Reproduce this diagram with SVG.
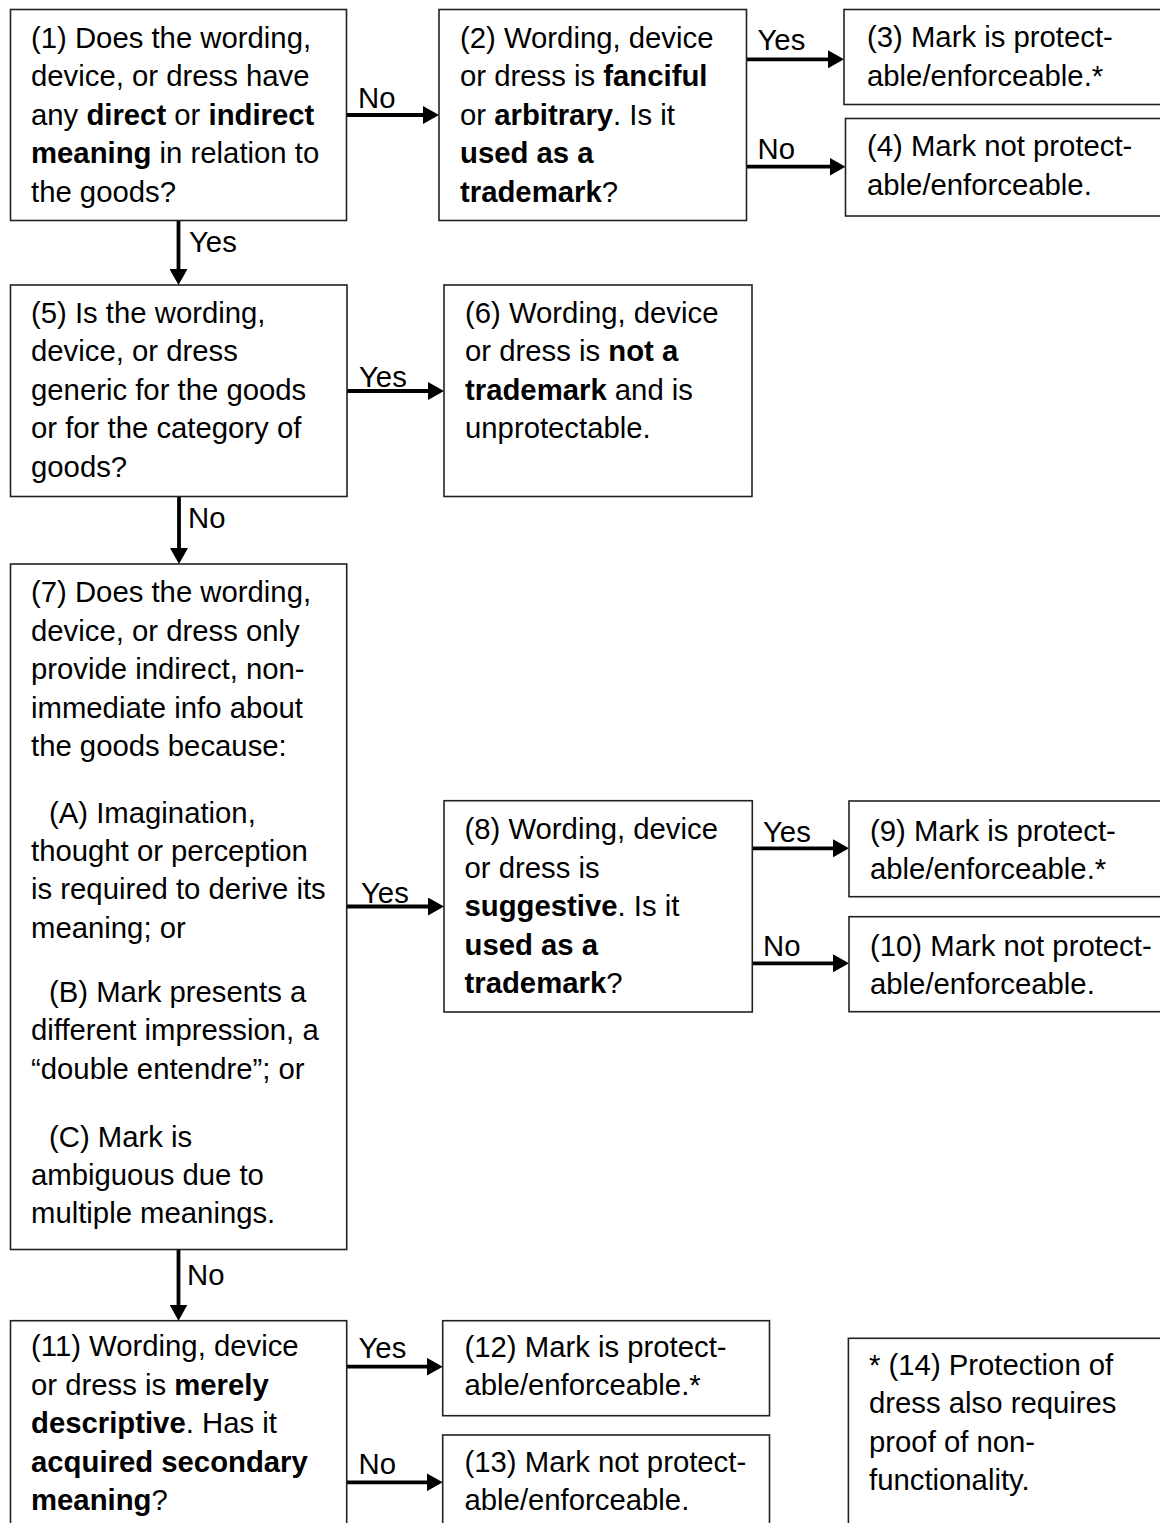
<svg xmlns="http://www.w3.org/2000/svg" width="1160" height="1523" viewBox="0 0 1160 1523">
<style>
  .box { fill: #fff; stroke: #222; stroke-width: 1.6; }
  text { font-family: "Liberation Sans", Arial, sans-serif; font-size: 29.3px; fill: #000; }
  .b { font-weight: bold; }
  .conn { stroke: #000; stroke-width: 3.8; fill: none; marker-end: url(#ah); }
</style>
<defs>
  <marker id="ah" markerWidth="16" markerHeight="18" refX="1" refY="9" orient="auto" markerUnits="userSpaceOnUse">
    <path d="M0,0 L16,9 L0,18 z" fill="#000"/>
  </marker>
</defs>
<rect width="1160" height="1523" fill="#fff"/>

<g id="connectors">
  <path class="conn" d="M346.5,115 H424"/>
  <text x="358" y="107.5">No</text>
  <path class="conn" d="M746.5,59.3 H829"/>
  <text x="757.5" y="50">Yes</text>
  <path class="conn" d="M746.5,166.7 H830.5"/>
  <text x="757.5" y="159">No</text>
  <path class="conn" d="M178.5,220.5 V270"/>
  <text x="189" y="252">Yes</text>
  <path class="conn" d="M347,391 H429"/>
  <text x="359" y="387">Yes</text>
  <path class="conn" d="M179,496.5 V549"/>
  <text x="188" y="528">No</text>
  <path class="conn" d="M346.7,906.5 H429"/>
  <text x="361" y="903">Yes</text>
  <path class="conn" d="M752.3,848.3 H834"/>
  <text x="763" y="841.5">Yes</text>
  <path class="conn" d="M752.3,963.3 H834"/>
  <text x="763" y="955.7">No</text>
  <path class="conn" d="M178.5,1249.5 V1305.7"/>
  <text x="187" y="1285">No</text>
  <path class="conn" d="M346.7,1366.7 H427.7"/>
  <text x="358.5" y="1358.3">Yes</text>
  <path class="conn" d="M346.7,1482.3 H427.7"/>
  <text x="358.5" y="1474">No</text>
</g>

<g id="n1">
  <rect class="box" x="10.5" y="9.5" width="336" height="211"/>
  <text x="31" y="47.5">(1) Does the wording,</text>
  <text x="31" y="86">device, or dress have</text>
  <text x="31" y="124.5">any <tspan class="b">direct</tspan> or <tspan class="b">indirect</tspan></text>
  <text x="31" y="163"><tspan class="b">meaning</tspan> in relation to</text>
  <text x="31" y="201.5">the goods?</text>
</g>

<g id="n2">
  <rect class="box" x="439" y="9.5" width="307.5" height="211"/>
  <text x="460" y="47.5">(2) Wording, device</text>
  <text x="460" y="86">or dress is <tspan class="b">fanciful</tspan></text>
  <text x="460" y="124.5">or <tspan class="b">arbitrary</tspan>. Is it</text>
  <text x="460" y="163" class="b">used as a</text>
  <text x="460" y="201.5"><tspan class="b">trademark</tspan>?</text>
</g>

<g id="n3">
  <rect class="box" x="844" y="9.5" width="330" height="95"/>
  <text x="867" y="47">(3) Mark is protect-</text>
  <text x="867" y="86">able/enforceable.*</text>
</g>

<g id="n4">
  <rect class="box" x="845.5" y="118.5" width="330" height="97.5"/>
  <text x="867" y="156">(4) Mark not protect-</text>
  <text x="867" y="195">able/enforceable.</text>
</g>

<g id="n5">
  <rect class="box" x="10.5" y="285" width="336.5" height="211.5"/>
  <text x="31" y="322.7">(5) Is the wording,</text>
  <text x="31" y="361">device, or dress</text>
  <text x="31" y="399.5">generic for the goods</text>
  <text x="31" y="438">or for the category of</text>
  <text x="31" y="476.5">goods?</text>
</g>

<g id="n6">
  <rect class="box" x="444" y="285" width="308" height="211.5"/>
  <text x="465" y="322.7">(6) Wording, device</text>
  <text x="465" y="361">or dress is <tspan class="b">not a</tspan></text>
  <text x="465" y="399.5"><tspan class="b">trademark</tspan> and is</text>
  <text x="465" y="438">unprotectable.</text>
</g>

<g id="n7">
  <rect class="box" x="10.5" y="564" width="336.2" height="685.5"/>
  <text x="31" y="601.5">(7) Does the wording,</text>
  <text x="31" y="640.5">device, or dress only</text>
  <text x="31" y="679">provide indirect, non-</text>
  <text x="31" y="717.5">immediate info about</text>
  <text x="31" y="756">the goods because:</text>
  <text x="49" y="823">(A) Imagination,</text>
  <text x="31" y="861">thought or perception</text>
  <text x="31" y="899">is required to derive its</text>
  <text x="31" y="937.5">meaning; or</text>
  <text x="49" y="1002">(B) Mark presents a</text>
  <text x="31" y="1040">different impression, a</text>
  <text x="31" y="1079">“double entendre”; or</text>
  <text x="49" y="1146.5">(C) Mark is</text>
  <text x="31" y="1185">ambiguous due to</text>
  <text x="31" y="1223">multiple meanings.</text>
</g>

<g id="n8">
  <rect class="box" x="444" y="800.7" width="308.3" height="211.3"/>
  <text x="464.5" y="839">(8) Wording, device</text>
  <text x="464.5" y="877.5">or dress is</text>
  <text x="464.5" y="916"><tspan class="b">suggestive</tspan>. Is it</text>
  <text x="464.5" y="954.5" class="b">used as a</text>
  <text x="464.5" y="993"><tspan class="b">trademark</tspan>?</text>
</g>

<g id="n9">
  <rect class="box" x="849" y="801" width="330" height="95.7"/>
  <text x="870" y="841">(9) Mark is protect-</text>
  <text x="870" y="879">able/enforceable.*</text>
</g>

<g id="n10">
  <rect class="box" x="849" y="916.7" width="330" height="95"/>
  <text x="870" y="956">(10) Mark not protect-</text>
  <text x="870" y="993.5">able/enforceable.</text>
</g>

<g id="n11">
  <rect class="box" x="10.5" y="1320.7" width="336.2" height="230"/>
  <text x="31" y="1356">(11) Wording, device</text>
  <text x="31" y="1394.5">or dress is <tspan class="b">merely</tspan></text>
  <text x="31" y="1433"><tspan class="b">descriptive</tspan>. Has it</text>
  <text x="31" y="1471.5" class="b">acquired secondary</text>
  <text x="31" y="1510"><tspan class="b">meaning</tspan>?</text>
</g>

<g id="n12">
  <rect class="box" x="442.7" y="1320.7" width="326.8" height="95"/>
  <text x="464.5" y="1356.7">(12) Mark is protect-</text>
  <text x="464.5" y="1395">able/enforceable.*</text>
</g>

<g id="n13">
  <rect class="box" x="442.7" y="1435" width="326.8" height="120"/>
  <text x="464.5" y="1472">(13) Mark not protect-</text>
  <text x="464.5" y="1510">able/enforceable.</text>
</g>

<g id="n14">
  <rect class="box" x="848.4" y="1338.3" width="330" height="220"/>
  <text x="869" y="1375">* (14) Protection of</text>
  <text x="869" y="1413">dress also requires</text>
  <text x="869" y="1451.7">proof of non-</text>
  <text x="869" y="1490">functionality.</text>
</g>
</svg>
